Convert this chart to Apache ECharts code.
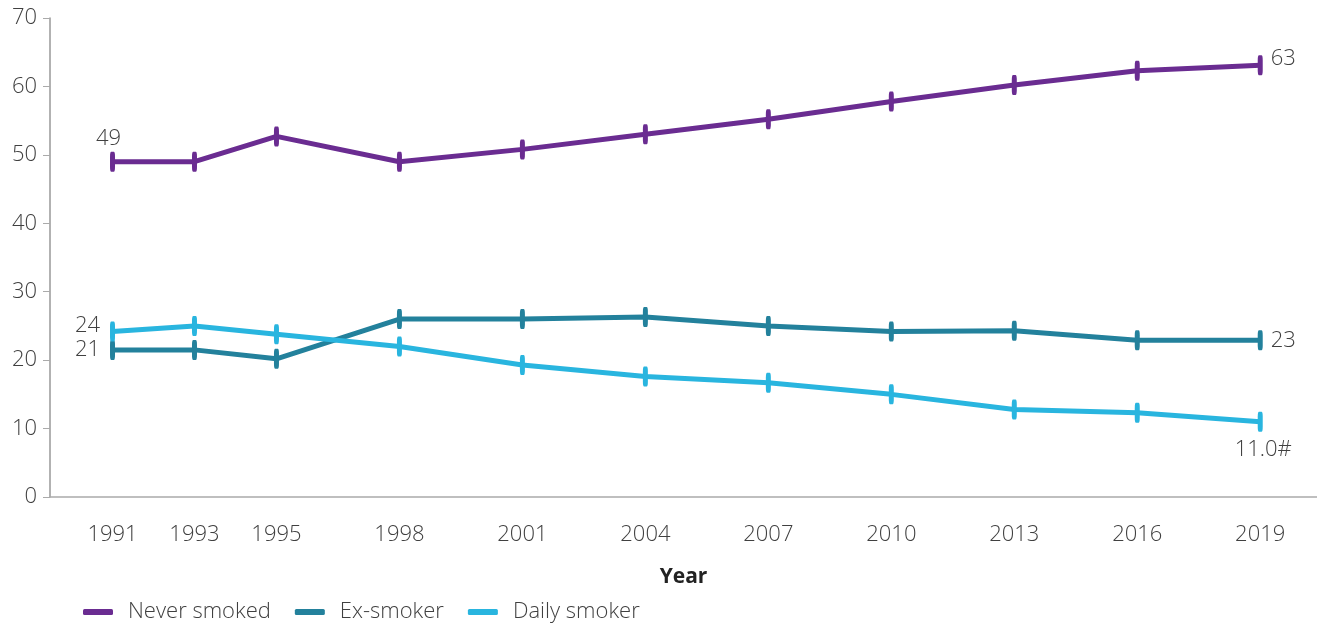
<!DOCTYPE html>
<html><head><meta charset="utf-8">
<script src="https://cdn.jsdelivr.net/npm/echarts@6/dist/echarts.min.js"></script>
<style>html,body{margin:0;padding:0;background:#fff}#c{width:1317px;height:625px}</style>
</head><body><div id="c"></div>
<script>
const years = [1991, 1993, 1995, 1998, 2001, 2004, 2007, 2010, 2013, 2016, 2019];
const neverSmoked = [49.0, 49.0, 52.7, 49.0, 50.8, 53.0, 55.2, 57.8, 60.2, 62.3, 63.1];
const exSmoker = [21.5, 21.5, 20.2, 26.0, 26.0, 26.3, 25.0, 24.2, 24.3, 22.9, 22.9];
const dailySmoker = [24.2, 25.0, 23.8, 22.0, 19.3, 17.6, 16.7, 15.0, 12.8, 12.3, 11.0];
const yTicks = [0, 10, 20, 30, 40, 50, 60, 70];
const endLabels = {
  never: {first: '49', last: '63'},
  ex: {first: '21', last: '23'},
  daily: {first: '24', last: '11.0#'}
};

const txt = '#404040';
const font = 'Open Sans';
const fs = 22;

function build(vals, labels, firstPos, lastPos) {
  return vals.map((v, i) => {
    const item = {value: [years[i], v]};
    const base = {show: true, color: txt, fontSize: fs, fontFamily: font, fontWeight: 300};
    if (i === 0) item.label = Object.assign(base, {formatter: labels.first}, firstPos);
    if (i === vals.length - 1) item.label = Object.assign(base, {formatter: labels.last}, lastPos);
    return item;
  });
}

function series(name, color, data) {
  return {
    name, type: 'line', data,
    lineStyle: {color, width: 5},
    itemStyle: {color},
    symbol: 'roundRect', symbolSize: [5, 20],
    showAllSymbol: true,
    emphasis: {disabled: true},
    z: 2
  };
}

const chart = echarts.init(document.getElementById('c'));
chart.setOption({
  animation: false,
  grid: {left: 50, right: 0, top: 18, bottom: 128, containLabel: false},
  legend: {
    left: 78, top: 596, itemWidth: 30, itemHeight: 6, itemGap: 24,
    icon: 'roundRect',
    textStyle: {color: txt, fontSize: fs, fontFamily: font, fontWeight: 300, padding: [0, 0, 0, 10]},
    data: ['Never smoked', 'Ex-smoker', 'Daily smoker']
  },
  xAxis: {
    type: 'value', min: 1989.475, max: 2020.385,
    name: 'Year', nameLocation: 'middle', nameGap: 70,
    nameTextStyle: {color: '#222', fontSize: 21, fontWeight: 'bold', fontFamily: font},
    axisLine: {show: true, lineStyle: {color: '#aaa', width: 1.5}},
    axisTick: {show: false},
    splitLine: {show: false},
    axisLabel: {customValues: years, formatter: v => String(v), color: txt, fontSize: fs, fontFamily: font, fontWeight: 300, margin: 27}
  },
  yAxis: {
    type: 'value', min: 0, max: 70, interval: 10,
    axisLine: {show: true, lineStyle: {color: '#999', width: 1.5}},
    axisTick: {show: true, length: 7, lineStyle: {color: '#aaa'}},
    splitLine: {show: false},
    axisLabel: {customValues: yTicks, color: txt, fontSize: fs, fontFamily: font, fontWeight: 300, margin: 13}
  },
  series: [
    series('Never smoked', '#6a2c91', build(neverSmoked, endLabels.never, {position: 'top', distance: 2, offset: [-4, 0]}, {position: 'right', distance: 8, offset: [0, -6]})),
    series('Ex-smoker', '#23819c', build(exSmoker, endLabels.ex, {position: 'left', distance: 10}, {position: 'right', distance: 8})),
    series('Daily smoker', '#29b5df', build(dailySmoker, endLabels.daily, {position: 'left', distance: 10, offset: [0, -6]}, {position: 'bottom', distance: 6, offset: [3, 1]}))
  ]
});
</script></body></html>
